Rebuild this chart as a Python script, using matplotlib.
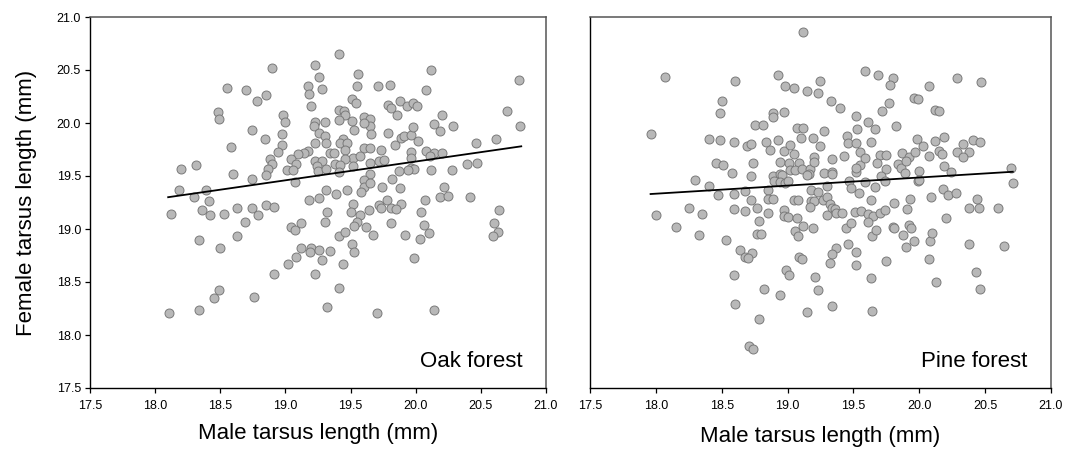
import matplotlib
matplotlib.use("Agg")
import matplotlib.pyplot as plt
import numpy as np

plt.rcParams['font.family'] = ['Liberation Sans', 'DejaVu Sans']

# ---------------- Oak forest ----------------
oak_male = [
    18.90, 19.23, 19.26, 19.17, 19.18, 19.28, 18.55, 18.70, 18.78, 18.85,
    19.20, 18.48, 18.49, 18.98, 19.00, 19.23, 19.30, 19.22, 18.74, 18.97,
    18.84, 19.26, 19.30, 19.23, 19.31, 18.58, 18.97, 18.94, 19.17, 19.14,
    19.10, 19.34, 18.88, 18.90, 18.87, 19.04, 19.08, 19.01, 19.06, 19.23,
    19.28, 19.24, 19.25, 19.31, 18.20, 18.31, 18.60, 18.74, 18.85, 19.07,
    18.18, 18.39, 19.31,
    18.30, 18.41, 18.12, 18.36, 18.42, 18.53, 18.63, 18.74, 18.85, 18.91,
    18.69, 18.79, 19.18, 19.26, 19.32, 19.30, 18.34, 18.50, 18.63, 19.04,
    19.07, 19.12, 19.12, 19.20, 19.19, 19.26, 19.28, 19.08, 19.02, 18.91,
    19.23, 19.34, 18.49, 18.45, 18.76, 18.11, 18.34, 19.32,
    19.41, 19.56, 19.55, 19.71, 19.80, 20.12, 20.08, 20.79, 19.51, 19.54,
    19.41, 19.45, 19.46, 19.41, 19.51, 19.53, 19.60, 19.65, 19.65, 19.66,
    19.60, 19.79, 19.81, 19.88, 19.86, 19.93, 19.98, 20.01, 20.20, 20.70,
    20.80, 20.14, 20.19, 20.29, 19.79, 19.89, 19.91, 19.96, 19.98, 20.02,
    19.84, 19.37, 19.44, 19.42, 19.47, 19.46, 19.60, 19.65, 19.73, 19.96,
    20.08, 20.14, 20.20, 20.11, 20.46, 20.62, 19.52, 19.57, 19.65, 19.72,
    19.76, 19.96, 19.96, 19.99, 19.94, 19.87, 20.12, 20.28, 20.39, 20.47,
    19.46, 19.38, 19.42, 19.52, 19.41, 19.65, 19.60, 19.60, 19.58, 19.65,
    19.82, 19.88, 19.74, 20.22, 20.19, 20.25, 20.42, 19.39, 19.47, 20.07,
    19.78, 19.89, 19.52, 19.72,
    19.50, 19.57, 19.55, 19.53, 19.64, 19.73, 19.81, 19.85, 19.81, 19.62,
    20.04, 20.06, 20.10, 20.03, 19.92, 19.67, 19.41, 19.46, 19.51, 19.53,
    19.44, 19.41, 19.70, 19.99, 20.14, 20.64, 20.60, 20.63, 20.59,
]
oak_female = [
    20.52, 20.55, 20.43, 20.35, 20.27, 20.32, 20.33, 20.31, 20.21, 20.26,
    20.16, 20.10, 20.04, 20.08, 20.01, 20.01, 20.01, 19.97, 19.93, 19.90,
    19.85, 19.91, 19.88, 19.81, 19.81, 19.77, 19.79, 19.73, 19.74, 19.72,
    19.71, 19.72, 19.66, 19.61, 19.57, 19.66, 19.61, 19.56, 19.56, 19.64,
    19.64, 19.59, 19.55, 19.57, 19.57, 19.60, 19.52, 19.47, 19.51, 19.44,
    19.37, 19.37, 19.37,
    19.30, 19.26, 19.14, 19.18, 19.13, 19.14, 19.20, 19.20, 19.23, 19.21,
    19.07, 19.13, 19.27, 19.29, 19.16, 19.07, 18.90, 18.82, 18.93, 19.02,
    18.99, 19.06, 18.82, 18.82, 18.78, 18.80, 18.71, 18.74, 18.67, 18.58,
    18.58, 18.79, 18.42, 18.35, 18.36, 18.21, 18.24, 18.26,
    20.65, 20.46, 20.35, 20.35, 20.36, 20.50, 20.31, 20.41, 20.23, 20.19,
    20.12, 20.11, 20.08, 20.03, 20.02, 19.93, 20.06, 20.04, 19.97, 19.90,
    20.00, 20.17, 20.14, 20.21, 20.08, 20.16, 20.19, 20.16, 20.08, 20.11,
    19.97, 19.99, 19.92, 19.97, 19.91, 19.86, 19.88, 19.89, 19.96, 19.83,
    19.79, 19.72, 19.85, 19.81, 19.81, 19.75, 19.76, 19.76, 19.75, 19.73,
    19.74, 19.72, 19.72, 19.69, 19.81, 19.85, 19.67, 19.69, 19.62, 19.64,
    19.65, 19.67, 19.58, 19.57, 19.56, 19.55, 19.56, 19.56, 19.61, 19.62,
    19.66, 19.61, 19.60, 19.59, 19.54, 19.52, 19.46, 19.40, 19.35, 19.43,
    19.47, 19.39, 19.40, 19.40, 19.30, 19.31, 19.30, 19.33, 19.37, 19.27,
    19.27, 19.24, 19.24, 19.23,
    19.16, 19.13, 19.07, 19.03, 19.18, 19.20, 19.20, 19.19, 19.06, 19.02,
    19.16, 19.04, 18.96, 18.91, 18.94, 18.94, 18.93, 18.97, 18.86, 18.78,
    18.67, 18.44, 18.21, 18.73, 18.24, 19.18, 19.06, 18.97, 18.93,
]
oak_fit_x = [18.10, 20.81]
oak_fit_y = [19.30, 19.78]

# ---------------- Pine forest ----------------
pine_male = [
    19.12, 18.07, 18.60, 18.93, 19.59, 19.69, 19.80, 19.78, 20.29, 20.47,
    19.25, 18.98, 19.05, 19.15, 19.23, 20.07, 18.50, 18.49, 18.89, 18.89,
    18.97, 19.33, 19.40, 19.77, 19.72, 19.96, 19.99, 20.12, 20.15, 19.52,
    19.61, 18.75, 18.81, 19.07, 19.12, 19.28, 19.53, 19.66, 19.82, 17.96,
    18.40, 18.49, 18.59, 18.69, 18.72, 18.84, 18.87, 18.93, 18.97, 19.02,
    19.10, 19.19, 19.25, 19.45, 19.46, 19.52, 19.55, 19.63, 19.98, 20.03,
    20.12, 20.19, 20.15, 20.17, 20.29, 20.33, 20.38, 20.33, 20.41, 20.46,
    19.05, 19.20, 19.34, 19.43, 19.70, 19.75, 19.87, 19.92, 19.97, 20.07,
    18.46, 18.51, 18.74, 18.94, 19.01, 19.09, 19.02, 19.06, 19.11, 19.17,
    19.20, 19.28, 19.34, 19.34, 19.16, 19.15, 18.58, 18.72, 18.89, 18.94,
    18.96, 18.90, 18.94, 18.98, 19.00, 19.30, 19.47, 19.52, 19.55, 19.59,
    19.52, 19.68, 19.75, 19.71, 19.74, 19.84, 19.86, 19.90, 19.89, 20.00,
    19.99, 20.00, 20.19, 20.24, 20.70, 20.71, 18.30, 18.40, 18.47, 18.59,
    18.68, 19.18, 19.23, 19.48, 19.54, 19.59, 19.66, 20.18, 20.22, 20.28,
    18.85, 18.85, 18.89, 18.72, 18.77, 18.59, 18.68, 18.85, 18.97, 18.97,
    19.00, 19.05, 19.08, 19.07, 19.18, 19.20, 19.17, 19.27, 19.30, 19.32,
    19.34, 19.36, 19.37, 19.41, 19.30, 19.51, 19.56, 19.63, 19.61, 19.65,
    19.70, 19.74, 19.81, 19.91, 19.93, 20.09, 20.38, 20.44, 20.45, 20.60,
    20.20, 18.00, 18.25, 18.35, 18.15, 18.33, 18.53, 18.78, 18.77, 18.80,
    19.06, 19.08, 19.12, 19.19, 19.44, 19.48, 19.61, 19.64, 19.67, 19.80,
    19.81, 19.92, 19.94, 19.88, 19.96, 19.90, 20.08, 20.10, 20.38, 20.64,
    18.64, 18.68, 18.73, 18.70, 19.09, 19.11, 19.37, 19.34, 19.32, 19.46,
    19.52, 19.52, 19.75, 20.07, 18.59, 18.99, 19.01, 19.21, 19.63, 20.43,
    20.13, 18.82, 18.94, 19.23, 20.46, 18.60, 19.34, 19.15, 19.64, 18.78,
    18.71, 18.74,
]
pine_female = [
    20.86, 20.43, 20.40, 20.45, 20.49, 20.45, 20.42, 20.36, 20.42, 20.39,
    20.40, 20.35, 20.33, 20.30, 20.28, 20.35, 20.21, 20.09, 20.09, 20.06,
    20.10, 20.21, 20.14, 20.19, 20.11, 20.24, 20.23, 20.12, 20.11, 20.07,
    20.01, 19.98, 19.98, 19.95, 19.95, 19.92, 19.94, 19.94, 19.97, 19.90,
    19.85, 19.84, 19.82, 19.78, 19.80, 19.82, 19.75, 19.84, 19.74, 19.79,
    19.86, 19.86, 19.78, 19.88, 19.81, 19.81, 19.73, 19.82, 19.85, 19.78,
    19.83, 19.87, 19.74, 19.71, 19.73, 19.80, 19.73, 19.68, 19.84, 19.82,
    19.71, 19.68, 19.66, 19.69, 19.70, 19.70, 19.72, 19.68, 19.73, 19.69,
    19.62, 19.60, 19.62, 19.63, 19.62, 19.62, 19.56, 19.56, 19.57, 19.57,
    19.63, 19.53, 19.54, 19.52, 19.52, 19.51, 19.53, 19.50, 19.50, 19.52,
    19.51, 19.45, 19.44, 19.43, 19.45, 19.41, 19.45, 19.54, 19.60, 19.67,
    19.58, 19.62, 19.57, 19.50, 19.45, 19.61, 19.58, 19.64, 19.53, 19.55,
    19.45, 19.46, 19.59, 19.54, 19.58, 19.43, 19.46, 19.41, 19.32, 19.33,
    19.36, 19.37, 19.35, 19.39, 19.34, 19.44, 19.40, 19.38, 19.32, 19.34,
    19.37, 19.28, 19.28, 19.27, 19.20, 19.19, 19.17, 19.15, 19.18, 19.12,
    19.11, 19.27, 19.27, 19.10, 19.26, 19.26, 19.21, 19.27, 19.30, 19.24,
    19.20, 19.19, 19.15, 19.15, 19.13, 19.16, 19.17, 19.27, 19.14, 19.12,
    19.15, 19.18, 19.25, 19.19, 19.28, 19.30, 19.20, 19.28, 19.20, 19.20,
    19.10, 19.13, 19.20, 19.14, 19.02, 18.94, 18.90, 19.08, 18.95, 18.95,
    18.98, 18.93, 19.03, 19.01, 19.01, 19.06, 19.07, 18.93, 18.99, 19.02,
    19.01, 19.04, 19.01, 18.94, 18.89, 18.83, 18.89, 18.96, 18.86, 18.84,
    18.80, 18.74, 18.77, 18.73, 18.74, 18.72, 18.82, 18.76, 18.68, 18.86,
    18.78, 18.66, 18.70, 18.72, 18.57, 18.61, 18.57, 18.55, 18.54, 18.59,
    18.50, 18.43, 18.38, 18.42, 18.43, 18.29, 18.27, 18.22, 18.23, 18.15,
    17.90, 17.87,
]
pine_fit_x = [17.96, 20.71]
pine_fit_y = [19.33, 19.54]

panel_labels = ["Oak forest", "Pine forest"]
x_label = "Male tarsus length (mm)"
y_label = "Female tarsus length (mm)"
ticks = [17.5, 18.0, 18.5, 19.0, 19.5, 20.0, 20.5, 21.0]

W, H = 1066, 451
fig = plt.figure(figsize=(W / 100, H / 100), dpi=100)
ax1 = fig.add_axes([90 / W, (H - 388) / H, 456 / W, 371 / H])
ax2 = fig.add_axes([590 / W, (H - 388) / H, 461 / W, 371 / H])

face = '#b8b8b8'
edge = '#7a7a7a'

for ax, xs, ys, fx, fy, lab in [
    (ax1, oak_male, oak_female, oak_fit_x, oak_fit_y, panel_labels[0]),
    (ax2, pine_male, pine_female, pine_fit_x, pine_fit_y, panel_labels[1]),
]:
    ax.scatter(xs, ys, s=42, facecolor=face, edgecolor=edge, linewidths=0.7, zorder=2)
    ax.plot(fx, fy, color='black', lw=1.3, zorder=3)
    ax.set_xlim(17.5, 21.0)
    ax.set_ylim(17.5, 21.0)
    ax.set_xticks(ticks)
    ax.set_xticklabels([f"{t:.1f}" for t in ticks], fontsize=9)
    ax.tick_params(axis='x', direction='out', length=3.5, width=0.9, pad=5)
    for s in ['top', 'right']:
        ax.spines[s].set_color('#555555')
        ax.spines[s].set_linewidth(1.1)
    for s in ['left', 'bottom']:
        ax.spines[s].set_color('black')
        ax.spines[s].set_linewidth(1.0)
    ax.text(0.949, 0.057, lab, transform=ax.transAxes, ha='right', va='baseline',
            fontsize=16)
    ax.set_xlabel(x_label, fontsize=16, labelpad=8)

ax1.set_yticks(ticks)
ax1.set_yticklabels([f"{t:.1f}" for t in ticks], fontsize=9)
ax1.tick_params(axis='y', direction='out', length=3.5, width=0.9, pad=3)
ax1.set_ylabel(y_label, fontsize=16, labelpad=14)
ax2.set_yticks([])
ax2.xaxis.labelpad = 10

fig.savefig("out.png", dpi=100)
